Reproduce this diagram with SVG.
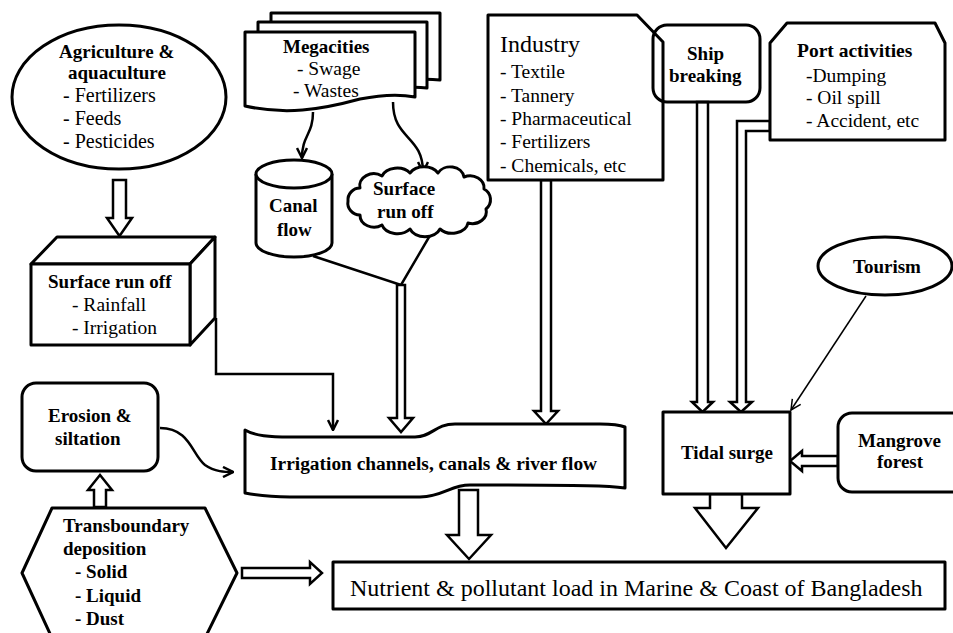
<svg xmlns="http://www.w3.org/2000/svg" width="953" height="633" viewBox="0 0 953 633">
<style>
.s{fill:#fff;stroke:#000;stroke-width:3;stroke-linejoin:round}
.n{fill:none;stroke:#000;stroke-width:3;stroke-linejoin:round}
.h{fill:#fff;stroke:#000;stroke-width:2.5;stroke-linejoin:miter}
.l{fill:none;stroke:#000;stroke-width:2.5}
.t{fill:none;stroke:#000;stroke-width:1.5}
text{fill:#000;font-size:19.5px;font-family:'Liberation Serif',serif}
.b{font-weight:bold;font-size:19px}
</style>
<defs>
<marker id="v" viewBox="0 0 12 12" refX="11" refY="6" markerWidth="12" markerHeight="12" orient="auto" markerUnits="userSpaceOnUse"><path d="M1,1 L11,6 L1,11" fill="none" stroke="#000" stroke-width="2.5"/></marker>
<marker id="vt" viewBox="0 0 12 12" refX="11" refY="6" markerWidth="12" markerHeight="12" orient="auto" markerUnits="userSpaceOnUse"><path d="M1,1 L11,6 L1,11" fill="none" stroke="#000" stroke-width="1.5"/></marker>
</defs>
<rect width="953" height="633" fill="#fff"/>
<g id="connectors">
<polygon class="h" points="113,180 126,180 126,218 132,218 119.5,236 107,218 113,218"/>
<path class="l" d="M313,112 C313,135 302,135 302,158" marker-end="url(#v)"/>
<path class="l" d="M393,102 C393,140 423,135 423,172" marker-end="url(#v)"/>
<path class="l" d="M313,256 L401,285 L432,232"/>
<polygon class="h" points="397,285 405,285 405,418 413,418 401,432 389,418 397,418"/>
<polyline class="l" points="216,318 216,374 333,374 333,430" marker-end="url(#v)"/>
<polygon class="h" points="541,180 551,180 551,411 558,411 546,424 534,411 541,411"/>
<path class="l" d="M160,428 C190,428 192,455 205,465 C215,472 225,472 233,472" marker-end="url(#v)"/>
<polygon class="h" points="94,507 106,507 106,490 112,490 100,475 88,490 94,490"/>
<polygon class="h" points="459,490 478,490 478,535 491,535 469,559 447,535 459,535"/>
<polygon class="h" points="242,568 310,568 310,562 322,573 310,584 310,578 242,578"/>
<polygon class="h" points="697,102 708,102 708,402 713,402 702.5,412 692,402 697,402"/>
<polygon class="h" points="770,121 737,121 737,402 730,402 741,412 752,402 746,402 746,131 770,131"/>
<line class="t" x1="866" y1="296" x2="791" y2="410" marker-end="url(#vt)"/>
<polygon class="h" points="838,456 802,456 802,451 790,461 802,471 802,466 838,466"/>
<polygon class="h" points="710,494 742,494 742,508 758,508 726,548 695,508 710,508"/>
</g>
<g id="agriculture">
<ellipse class="s" cx="119" cy="97" rx="107" ry="72"/>
<text class="b" x="59" y="58">Agriculture &amp;</text>
<text class="b" x="68" y="79">aquaculture</text>
<text x="63" y="102" style="font-size:20px">- Fertilizers</text>
<text x="63" y="125" style="font-size:20px">- Feeds</text>
<text x="63" y="148" style="font-size:20px">- Pesticides</text>
</g>
<g id="megacities">
<path class="s" d="M271,13 H440 V80 C420,78 405,80 380,86 C340,98 310,100 271,90 Z"/>
<path class="s" d="M258,22 H427 V88 C410,86 395,88 370,94 C330,106 300,108 258,98 Z"/>
<path class="s" d="M245,32 H415 V97 C400,94 385,94 360,99 C320,110 285,115 245,106 Z"/>
<text class="b" x="283" y="53">Megacities</text>
<text x="297" y="75">- Swage</text>
<text x="293" y="97">- Wastes</text>
</g>
<g id="canal">
<path class="s" d="M256,174 V243 A38,14 0 0,0 332,243 V174"/>
<ellipse class="s" cx="294" cy="174" rx="38" ry="14"/>
<text class="b" x="269" y="212">Canal</text>
<text class="b" x="277" y="236">flow</text>
</g>
<g id="cloud">
<path class="s" d="M360,188 a14,12 0 0,1 22,-12 a16,12 0 0,1 28,-3 a16,12 0 0,1 28,0 a14,12 0 0,1 26,4 a14,12 0 0,1 20,12 a12,12 0 0,1 2,20 a14,12 0 0,1 -18,14 a16,12 0 0,1 -28,6 a16,12 0 0,1 -30,0 a16,12 0 0,1 -28,-4 a14,12 0 0,1 -22,-10 a12,12 0 0,1 -12,-14 a12,12 0 0,1 12,-13 Z"/>
<text class="b" x="373" y="195">Surface</text>
<text class="b" x="377" y="218">run off</text>
</g>
<g id="industry">
<path class="s" d="M488,15 H637 L663,42 V180 H488 Z"/>
<text x="500" y="52" style="font-size:24px">Industry</text>
<text x="500" y="78">- Textile</text>
<text x="500" y="102">- Tannery</text>
<text x="500" y="125">- Pharmaceutical</text>
<text x="500" y="148">- Fertilizers</text>
<text x="500" y="172">- Chemicals, etc</text>
</g>
<g id="ship-breaking">
<rect class="n" x="653" y="25" width="107" height="77" rx="14"/>
<text class="b" x="687" y="60">Ship</text>
<text class="b" x="669" y="82">breaking</text>
</g>
<g id="port-activities">
<path class="s" d="M787,23 H935 L945,43 V140 H770 V43 Z"/>
<text class="b" x="797" y="57" style="font-size:19.5px">Port activities</text>
<text x="806" y="82">-Dumping</text>
<text x="806" y="104">- Oil spill</text>
<text x="806" y="127">- Accident, etc</text>
</g>
<g id="surface-runoff">
<path class="s" d="M31,264 L57,237 H215 L190,264 Z"/>
<path class="s" d="M190,264 L215,237 V318 L190,345 Z"/>
<rect class="s" x="31" y="264" width="159" height="81"/>
<text class="b" x="48" y="288">Surface run off</text>
<text x="72" y="311">- Rainfall</text>
<text x="72" y="334">- Irrigation</text>
</g>
<g id="erosion">
<rect class="s" x="22" y="383" width="136" height="88" rx="14"/>
<text class="b" x="48" y="422">Erosion &amp;</text>
<text class="b" x="55" y="445">siltation</text>
</g>
<g id="transboundary">
<path class="s" d="M52,508 H205 L237,573 L205,638 H52 L22,573 Z"/>
<text class="b" x="63" y="532">Transboundary</text>
<text class="b" x="63" y="555">deposition</text>
<text class="b" x="75" y="578">- Solid</text>
<text class="b" x="75" y="602">- Liquid</text>
<text class="b" x="75" y="625">- Dust</text>
</g>
<g id="irrigation">
<path class="s" d="M245,430 C255,436 270,437 290,437 L415,437 C432,437 435,424 455,424 L600,424 C612,424 620,425 625,427 V488 C610,486 590,485 470,485 C450,485 445,496 420,497 L290,497 C270,497 255,495 245,493 Z"/>
<text class="b" x="270" y="470" style="font-size:19.4px">Irrigation channels, canals &amp; river flow</text>
</g>
<g id="tidal-surge">
<rect class="s" x="663" y="412" width="127" height="82"/>
<text class="b" x="681" y="459">Tidal surge</text>
</g>
<g id="tourism">
<ellipse class="s" cx="885" cy="266" rx="67" ry="29"/>
<text class="b" x="853" y="273">Tourism</text>
</g>
<g id="mangrove">
<rect class="s" x="838" y="413" width="140" height="79" rx="14"/>
<text class="b" x="858" y="447">Mangrove</text>
<text class="b" x="877" y="468">forest</text>
</g>
<g id="nutrient-load">
<rect class="s" x="333" y="562" width="612" height="47"/>
<text x="350" y="596" style="font-size:24px">Nutrient &amp; pollutant load in Marine &amp; Coast of Bangladesh</text>
</g>
</svg>
